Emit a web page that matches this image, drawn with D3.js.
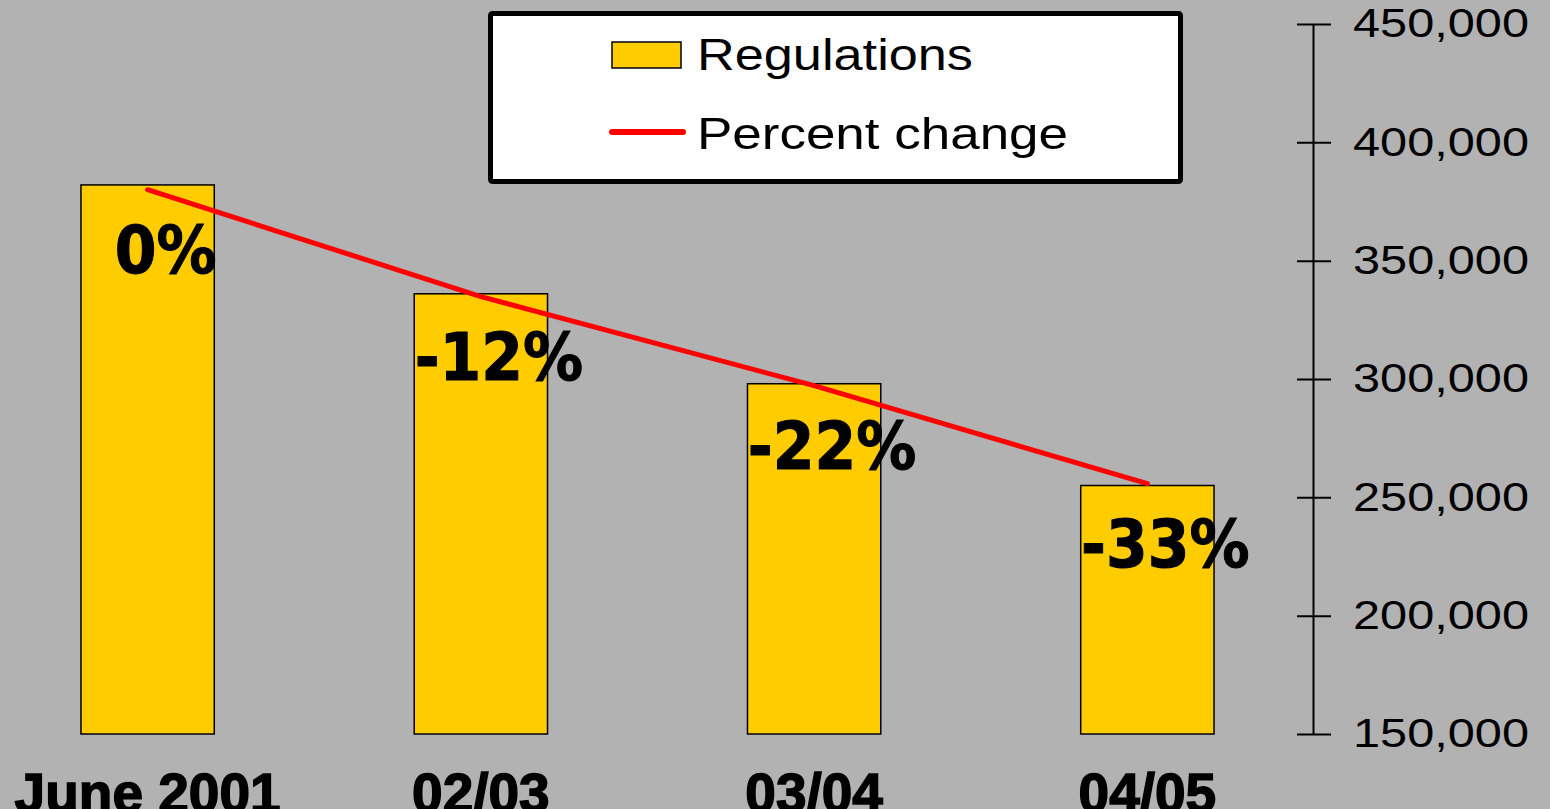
<!DOCTYPE html>
<html>
<head>
<meta charset="utf-8">
<script src="https://cdn.jsdelivr.net/npm/d3@7"></script>
<style>
	html, body { margin: 0; padding: 0; background: #b2b2b2; overflow: hidden; }
	svg { display: block; }
</style>
</head>
<body>
<svg id="chart" width="1550" height="809"></svg>
<script>
// 数据
var categories = ["June 2001", "02/03", "03/04", "04/05"];
var regulations = [382000, 336000, 298000, 255000];
var percentChange = [0, -12, -22, -33];
var yTicks = [150000, 200000, 250000, 300000, 350000, 400000, 450000];
var legendLabels = ["Regulations", "Percent change"];

var svg = d3.select("#chart");
var width = 1550, height = 809;
var axisX = 1313;

svg.append("rect")
	.attr("width", width)
	.attr("height", height)
	.attr("fill", "#b2b2b2");

var x = d3.scaleBand()
	.domain(categories)
	.range([0, 1295])
	.paddingInner(0.6)
	.paddingOuter(0.243);

var y = d3.scaleLinear()
	.domain([150000, 450000])
	.range([734, 24]);

// 隐藏的百分比坐标轴
var y2 = d3.scaleLinear()
	.domain([-61.1, 18.6])
	.range([734, 24]);

//柱子
function bars() {
	svg.append("g")
		.selectAll("rect")
		.data(regulations)
		.enter()
		.append("rect")
		.attr("x", function(d, i) { return x(categories[i]); })
		.attr("y", function(d) { return y(d); })
		.attr("width", x.bandwidth())
		.attr("height", function(d) { return y(150000) - y(d); })
		.attr("fill", "#ffcc00")
		.attr("stroke", "#000")
		.attr("stroke-width", 1.5);
}

//百分比折线
function line() {
	var lineGen = d3.line()
		.x(function(d, i) { return x(categories[i]) + x.bandwidth() / 2; })
		.y(function(d) { return y2(d); });
	svg.append("path")
		.datum(percentChange)
		.attr("d", lineGen)
		.attr("fill", "none")
		.attr("stroke", "#ff0000")
		.attr("stroke-width", 5)
		.attr("stroke-linecap", "round");
}

//百分比文本
function percentLabels() {
	svg.append("g")
		.selectAll("text")
		.data(percentChange)
		.enter()
		.append("text")
		.attr("transform", function(d, i) {
			var px = x(categories[i]) + x.bandwidth() / 2 + 18;
			var py = y2(d) + 83;
			return "translate(" + px + "," + py + ") scale(1,1.1)";
		})
		.attr("text-anchor", "middle")
		.style("font-family", "'DejaVu Sans', sans-serif")
		.style("font-weight", "bold")
		.style("font-size", "60px")
		.style("fill", "#000")
		.style("stroke", "#000")
		.style("stroke-width", "1px")
		.text(function(d) { return d + "%"; });
}

//右侧坐标轴
function rightAxis() {
	var axis = d3.axisRight(y)
		.tickValues(yTicks)
		.tickSize(18)
		.tickSizeOuter(0)
		.tickPadding(22)
		.tickFormat(d3.format(","));
	var g = svg.append("g")
		.attr("transform", "translate(" + axisX + ",0)")
		.call(axis);
	g.select(".domain")
		.attr("stroke", "#000")
		.attr("stroke-width", 2);
	g.selectAll(".tick line")
		.attr("x1", -16)
		.attr("stroke", "#000")
		.attr("stroke-width", 2);
	g.selectAll(".tick text")
		.attr("x", 40)
		.attr("textLength", 176)
		.attr("lengthAdjust", "spacingAndGlyphs")
		.style("font-family", "'Liberation Sans', Arial, sans-serif")
		.style("font-size", "40px")
		.style("fill", "#000");
}

//横坐标文字
function xLabels() {
	svg.append("g")
		.selectAll("text")
		.data(categories)
		.enter()
		.append("text")
		.attr("x", function(d) { return x(d) + x.bandwidth() / 2; })
		.attr("y", 812)
		.attr("text-anchor", "middle")
		.style("font-family", "'Liberation Sans', Arial, sans-serif")
		.style("font-weight", "bold")
		.style("font-size", "55px")
		.style("fill", "#000")
		.style("stroke", "#000")
		.style("stroke-width", "1.5px")
		.text(function(d) { return d; });
}

//图例
function legend() {
	var g = svg.append("g");
	g.append("rect")
		.attr("x", 490.5)
		.attr("y", 13.5)
		.attr("width", 690)
		.attr("height", 168)
		.attr("fill", "#fff")
		.attr("stroke", "#000")
		.attr("stroke-width", 5)
		.attr("rx", 2);
	g.append("rect")
		.attr("x", 612)
		.attr("y", 42)
		.attr("width", 69)
		.attr("height", 26)
		.attr("fill", "#ffcc00")
		.attr("stroke", "#000")
		.attr("stroke-width", 1.5);
	g.append("line")
		.attr("x1", 612)
		.attr("x2", 683)
		.attr("y1", 132)
		.attr("y2", 132)
		.attr("stroke", "#ff0000")
		.attr("stroke-width", 6)
		.attr("stroke-linecap", "round");
	var lens = [276, 371];
	var ys = [70, 149];
	legendLabels.forEach(function(t, i) {
		g.append("text")
			.attr("x", 697)
			.attr("y", ys[i])
			.attr("textLength", lens[i])
			.attr("lengthAdjust", "spacingAndGlyphs")
			.style("font-family", "'Liberation Sans', Arial, sans-serif")
			.style("font-size", "44px")
			.style("fill", "#000")
			.text(t);
	});
}

bars();
line();
percentLabels();
rightAxis();
xLabels();
legend();
</script>
</body>
</html>
